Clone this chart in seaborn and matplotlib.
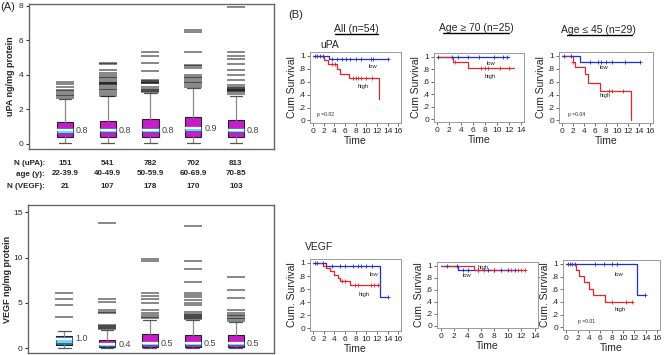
import numpy as np
import pandas as pd
import matplotlib
matplotlib.use("Agg")
import matplotlib.pyplot as plt
import seaborn as sns
from matplotlib.lines import Line2D

# ---------------- panel A data ----------------
ages = ["22-39.9", "40-49.9", "50-59.9", "60-69.9", "70-85"]
n_upa = [151, 541, 782, 702, 813]
n_vegf = [21, 107, 178, 170, 103]

upa_q1 = [0.4, 0.4, 0.4, 0.4, 0.4]
upa_med = [0.8, 0.8, 0.8, 0.9, 0.8]
upa_q3 = [1.3, 1.35, 1.45, 1.55, 1.4]
upa_wlo = [0.05, 0.05, 0.05, 0.05, 0.05]
upa_whi = [2.6, 2.75, 2.95, 3.25, 2.8]
upa_cilo = [0.65, 0.68, 0.7, 0.75, 0.68]
upa_cihi = [0.95, 0.92, 0.9, 1.0, 0.92]
upa_labels = ["0.8", "0.8", "0.8", "0.9", "0.8"]
upa_fliers = [
    [2.65, 2.75, 2.85, 2.95, 3.05, 3.15, 3.3, 3.45, 3.6],
    [2.8, 2.9, 3.0, 3.1, 3.2, 3.3, 3.4, 3.45, 3.5, 3.55, 3.6, 3.7, 3.8, 3.9, 4.0, 4.1, 4.3, 4.6, 4.7],
    [3.0, 3.05, 3.1, 3.2, 3.3, 3.5, 3.55, 3.6, 3.65, 3.7, 4.2, 4.7, 5.1, 5.3],
    [3.3, 3.4, 3.5, 3.6, 3.7, 3.8, 3.9, 4.0, 4.4, 4.5, 4.55, 5.3, 6.5, 6.6],
    [2.9, 3.0, 3.05, 3.1, 3.15, 3.2, 3.25, 3.3, 3.4, 3.7, 4.0, 4.3, 4.6, 4.9, 5.1, 5.3, 7.9],
]

vegf_q1 = [0.35, 0.1, 0.1, 0.1, 0.1]
vegf_med = [1.0, 0.4, 0.5, 0.5, 0.5]
vegf_q3 = [1.3, 0.9, 1.5, 1.4, 1.4]
vegf_wlo = [0.0, 0.0, 0.0, 0.0, 0.0]
vegf_whi = [1.85, 2.0, 3.1, 3.1, 2.9]
vegf_cilo = [0.6, 0.25, 0.35, 0.35, 0.3]
vegf_cihi = [1.25, 0.55, 0.65, 0.65, 0.7]
vegf_labels = ["1.0", "0.4", "0.5", "0.5", "0.5"]
vegf_fliers = [
    [3.4, 4.8, 5.4, 6.1],
    [2.1, 2.2, 2.3, 2.4, 2.5, 3.9, 4.0, 4.2, 5.1, 5.4, 13.8],
    [3.3, 3.4, 3.6, 3.9, 4.2, 5.0, 5.4, 5.8, 6.1, 9.6, 9.8],
    [3.2, 3.3, 3.4, 3.5, 3.6, 3.8, 4.0, 4.7, 5.0, 5.3, 5.6, 5.9, 6.1, 7.3, 8.7, 9.6, 13.5],
    [3.0, 3.2, 3.3, 3.5, 3.7, 3.9, 4.2, 5.5, 6.4, 7.9],
]

# ---------------- panel B data (Kaplan-Meier steps) ----------------
km = {
    "upa_all": {
        "low": ([0, 3.1, 14.0], [1, 0.95, 0.95]),
        "high": ([0, 2.0, 2.8, 4.5, 5.1, 6.7, 12.4], [1, 0.93, 0.87, 0.80, 0.72, 0.65, 0.33]),
    },
    "upa_old": {
        "low": ([0, 12.0], [1, 1]),
        "high": ([0, 2.6, 5.1, 12.8], [1, 0.92, 0.82, 0.82]),
    },
    "upa_young": {
        "low": ([0, 3.2, 14.2], [1, 0.91, 0.91]),
        "high": ([0, 1.9, 2.3, 4.2, 4.7, 6.9, 12.6], [1, 0.91, 0.82, 0.72, 0.58, 0.46, 0]),
    },
    "vegf_all": {
        "low": ([0, 2.4, 12.5, 14.0], [1, 0.95, 0.48, 0.48]),
        "high": ([0, 1.9, 2.4, 3.2, 3.9, 4.7, 5.0, 6.9, 12.5], [1, 0.96, 0.92, 0.88, 0.82, 0.77, 0.72, 0.67, 0.67]),
    },
    "vegf_old": {
        "low": ([0, 2.6, 11.2], [1, 0.92, 0.92]),
        "high": ([0, 4.9, 12.5], [1, 0.92, 0.92]),
    },
    "vegf_young": {
        "low": ([0, 12.4, 13.9], [1, 0.51, 0.51]),
        "high": ([0, 1.8, 2.3, 3.1, 4.0, 4.7, 6.8, 11.6], [1, 0.91, 0.81, 0.71, 0.61, 0.51, 0.40, 0.40]),
    },
}
censored = {
    "upa_all": {"low": [0.3, 0.8, 1.3, 1.8, 3.5, 4.6, 5.5, 6.2, 7.0, 8.0, 9.0, 10.8, 11.3, 14.0],
                "high": [3.6, 4.2, 7.5, 8.0, 8.5, 9.0, 10.0, 11.0]},
    "upa_old": {"low": [0.2, 2.5, 3.5, 5.2, 7.0, 9.5, 11.0, 11.7],
                "high": [3.0, 7.3, 8.0, 8.4, 10.5, 12.0]},
    "upa_young": {"low": [0.3, 1.7, 5.0, 6.5, 7.0, 8.0, 9.0, 11.5, 14.2],
                  "high": [2.0, 8.5, 9.0, 11.0]},
    "vegf_all": {"low": [0.3, 0.8, 1.8, 3.5, 5.0, 6.0, 7.5, 8.5, 9.0, 10.0, 11.0, 14.0],
                 "high": [5.5, 6.0, 7.8, 8.5, 10.8, 11.5, 12.2]},
    "vegf_old": {"low": [1.0, 2.5, 3.3, 4.0, 5.5, 7.0, 8.0, 9.0, 10.0, 11.0],
                 "high": [5.5, 6.5, 8.0, 10.5, 11.5, 12.0, 12.5]},
    "vegf_young": {"low": [0.3, 0.6, 1.0, 1.5, 5.0, 6.7, 8.0, 9.0, 13.9],
                   "high": [8.0, 10.5, 11.5]},
}
km_text = {
    "upa_all": [("low", 11.3, 0.83), ("high", 9.4, 0.52), ("p =0.02", 2.3, 0.09)],
    "upa_old": [("low", 8.9, 0.9), ("high", 8.9, 0.69)],
    "upa_young": [("low", 7.6, 0.82), ("high", 7.9, 0.39), ("p =0.04", 2.6, 0.09)],
    "vegf_all": [("low", 11.4, 0.83), ("high", 9.6, 0.52)],
    "vegf_old": [("high", 6.3, 0.97), ("low", 3.9, 0.83)],
    "vegf_young": [("low", 9.3, 0.83), ("high", 9.5, 0.29), ("p =0.01", 3.5, 0.09)],
}

PAL = {"low": "#1f2fd8", "high": "#e8242a"}
W, H = 667, 355

sns.set_theme(style="white")
plt.rcParams["font.family"] = ["Liberation Sans", "DejaVu Sans"]

fig = plt.figure(figsize=(W / 100, H / 100), dpi=100)


def px_axes(l, t, r, b):
    return fig.add_axes([l / W, 1 - b / H, (r - l) / W, (b - t) / H])


def box_panel(ax, q1, med, q3, wlo, whi, cilo, cihi, fliers, labels, faces):
    stats = []
    for i in range(len(med)):
        stats.append(dict(med=med[i], q1=q1[i], q3=q3[i], whislo=wlo[i], whishi=whi[i],
                          fliers=np.array(fliers[i])))
    pos = np.arange(len(med))
    bp = ax.bxp(stats, positions=pos, widths=0.38, patch_artist=True, capwidths=0.3,
                boxprops=dict(edgecolor="#222222", linewidth=0.8),
                whiskerprops=dict(color="#8a8a8a", linewidth=0.9),
                capprops=dict(color="#555555", linewidth=0.9),
                medianprops=dict(color="white", linewidth=1.6, zorder=4),
                flierprops=dict(marker="_", markersize=13, markeredgewidth=1.2,
                                markeredgecolor="black", alpha=0.55, linestyle="none"))
    for patch, fc in zip(bp["boxes"], faces):
        patch.set_facecolor(fc)
    ax.bar(pos, np.array(cihi) - np.array(cilo), bottom=cilo, width=0.38,
           color="#6fd3f2", edgecolor="#2a5fb0", linewidth=0.6, zorder=3)
    for x, m, lab in zip(pos, med, labels):
        ax.text(x + 0.26, m, lab, fontsize=6.5, color="#444444", va="center", ha="left")
    ax.set_xlim(-0.84, 4.89)
    ax.set_xticks([])
    ax.tick_params(axis="y", left=True, length=2.5, width=0.8, labelsize=6, pad=1.5, color="#333333")
    for s in ax.spines.values():
        s.set_color("#666666")
        s.set_linewidth(1.0)


# ---------------- panel A ----------------
axA1 = px_axes(29, 4, 274, 149)
box_panel(axA1, upa_q1, upa_med, upa_q3, upa_wlo, upa_whi, upa_cilo, upa_cihi,
          upa_fliers, upa_labels, ["#c51dc8"] * 5)
axA1.set_ylim(-0.29, 8.1)
axA1.set_yticks([0, 2, 4, 6, 8])
axA1.set_ylabel("uPA ng/mg protein", fontsize=6.5, fontweight="bold")
axA1.yaxis.set_label_coords(-0.058, 0.5)

axA2 = px_axes(28, 205, 274, 353)
box_panel(axA2, vegf_q1, vegf_med, vegf_q3, vegf_wlo, vegf_whi, vegf_cilo, vegf_cihi,
          vegf_fliers, vegf_labels, ["#23807f"] + ["#c51dc8"] * 4)
axA2.set_ylim(-0.55, 15.8)
axA2.set_yticks([0, 5, 10, 15])
axA2.set_ylabel("VEGF ng/mg protein", fontsize=6.5, fontweight="bold")
axA2.yaxis.set_label_coords(-0.064, 0.5)

# count rows below the upper box plot
tr = axA1.get_xaxis_transform()
rows = [(n_upa, -0.097), (ages, -0.172), (n_vegf, -0.262)]
for vals, yy in rows:
    for x, v in enumerate(vals):
        axA1.text(x, yy, str(v), transform=tr, ha="center", va="center",
                  fontsize=5.8, fontweight="bold", clip_on=False)
for lab, ypx in [("N (uPA):", 163), ("age (y):", 174), ("N (VEGF):", 187)]:
    fig.text(45 / W, 1 - ypx / H, lab, ha="right", va="center", fontsize=5.8, fontweight="bold")

fig.text(0 / W, 1 - 7 / H, "(A)", fontsize=8, va="center", ha="left")
fig.text(288 / W, 1 - 15 / H, "(B)", fontsize=8, va="center", ha="left")


# ---------------- panel B ----------------
def km_panel(ax, key, xmax, ylabel):
    frames = []
    for g, (t, s) in km[key].items():
        frames.append(pd.DataFrame({"time": t, "surv": s, "group": g}))
    df = pd.concat(frames, ignore_index=True)
    sns.lineplot(data=df, x="time", y="surv", hue="group", palette=PAL, drawstyle="steps-post",
                 estimator=None, sort=False, legend=False, linewidth=0.9, ax=ax)
    for g, ct in censored[key].items():
        t, s = km[key][g]
        idx = np.searchsorted(t, ct, side="right") - 1
        cs = np.array(s)[idx]
        sns.scatterplot(x=ct, y=cs, marker="+", color=PAL[g], s=7, linewidth=0.6, ax=ax, zorder=3)
    for txt, x, y in km_text[key]:
        fs = 3.6 if txt.startswith("p") else 4.2
        ax.text(x, y, txt, fontsize=fs, ha="center", va="center", color="#222222")
    ax.set_xlim(-0.55, xmax + 0.5)
    ax.set_ylim(-0.04, 1.06)
    ax.set_xticks(np.arange(0, xmax + 1, 2))
    ax.set_yticks([0, 0.2, 0.4, 0.6, 0.8, 1.0])
    ax.set_yticklabels(["0", ".2", ".4", ".6", ".8", "1"])
    ax.tick_params(labelsize=6, length=2, width=0.6, pad=1.5, color="#555555",
                   left=True, bottom=True)
    ax.set_xlabel("Time", fontsize=7.5, labelpad=1)
    ax.set_ylabel(ylabel, fontsize=7.5, labelpad=1)
    for s in ax.spines.values():
        s.set_color("#9a9a9a")
        s.set_linewidth(0.7)


panels = [
    ("upa_all", (310, 52, 401, 123), 16, "Cum Survival"),
    ("upa_old", (434, 53, 524, 122), 14, "Cum Survival"),
    ("upa_young", (559, 52, 653, 123), 16, "Cum Survival"),
    ("vegf_all", (310, 259, 401, 331), 16, "Cum. Survival"),
    ("vegf_old", (437, 262, 538, 328), 14, "Cum. Survival"),
    ("vegf_young", (563, 260, 660, 330), 16, "Cum. Survival"),
]
for key, (l, t, r, b), xmax, ylab in panels:
    ax = px_axes(l, t, r, b)
    km_panel(ax, key, xmax, ylab)

# column titles with underline
titles = [("All (n=54)", 356, 29, 335, 378), ("Age \u2265 70 (n=25)", 476, 28, 443, 509),
          ("Age \u2264 45 (n=29)", 598, 30, 567, 632)]
for txt, xc, yc, x0, x1 in titles:
    fig.text(xc / W, 1 - yc / H, txt, fontsize=7.5, ha="center", va="center")
    fig.add_artist(Line2D([x0 / W, x1 / W], [1 - (yc + 5) / H] * 2, color="black", lw=1.0))

fig.text(320 / W, 1 - 45 / H, "uPA", fontsize=7.5, ha="left", va="center")
fig.text(305 / W, 1 - 247 / H, "VEGF", fontsize=7.5, ha="left", va="center")

fig.savefig("out.png", dpi=100)
